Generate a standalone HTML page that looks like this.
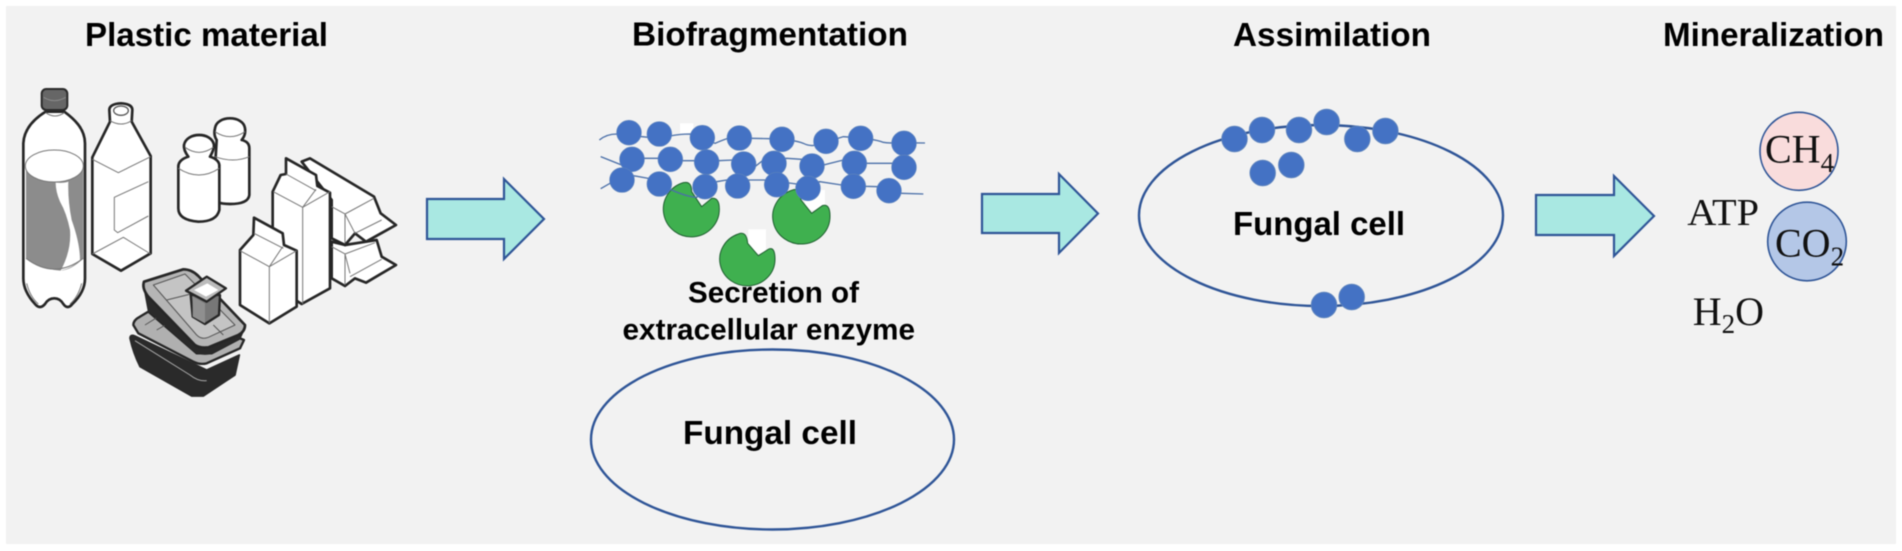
<!DOCTYPE html>
<html><head><meta charset="utf-8"><style>html,body{margin:0;padding:0;background:#fff}svg{display:block;filter:blur(.45px)}
.b{font-family:"Liberation Sans",sans-serif;font-weight:bold;fill:#000}
.s{font-family:"Liberation Serif",serif;fill:#111}
.k{stroke:#262626;stroke-width:8;stroke-linejoin:round;fill:#fff}
.t{stroke:#777;stroke-width:3;fill:none;stroke-linejoin:round}
</style></head><body>
<svg width="1902" height="551" viewBox="0 0 1902 551" xmlns="http://www.w3.org/2000/svg">
<rect width="1902" height="551" fill="#fff"/>
<rect x="6" y="6" width="1890" height="538" fill="#f2f2f2"/>

<text class="b" x="85" y="46" font-size="33" textLength="243" lengthAdjust="spacingAndGlyphs">Plastic material</text>
<text class="b" x="632" y="45.5" font-size="33" textLength="276" lengthAdjust="spacingAndGlyphs">Biofragmentation</text>
<text class="b" x="1233" y="46" font-size="33" textLength="198" lengthAdjust="spacingAndGlyphs">Assimilation</text>
<text class="b" x="1663" y="46" font-size="33" textLength="221" lengthAdjust="spacingAndGlyphs">Mineralization</text>

<!-- bottles -->
<g transform="translate(15,80) scale(0.33333)">
 <path class="k" d="M92,95C60,115 27,145 25,190L25,595C25,625 40,650 60,672Q75,690 90,672Q100,655 118,655Q135,655 145,672Q158,690 172,672C195,650 210,625 210,595L210,190C210,145 175,115 148,95Z"/>
 <path d="M33,262Q118,350 205,262L205,535Q170,570 135,572Q70,565 33,535Z" fill="#8c8c8c"/>
 <path d="M122,308Q150,310 160,305Q158,360 170,420Q195,490 195,540Q170,565 137,572Q170,510 165,450Q155,400 135,365Q122,335 122,308Z" fill="#fff"/>
 <ellipse cx="118" cy="258" rx="87" ry="48" fill="#fff" stroke="#777" stroke-width="3"/>
 <path class="t" d="M33,535Q118,600 205,535M35,610Q45,650 70,672M200,610Q190,650 165,672M92,98Q120,118 148,98"/>
 <rect x="80" y="27" width="77" height="63" rx="14" fill="#666" stroke="#2a2a2a" stroke-width="6"/>
 <path d="M86,52Q118,72 152,52" fill="none" stroke="#8a8a8a" stroke-width="3"/>
 <path class="k" d="M283,90Q283,72 318,70Q352,72 352,90L350,125L407,228L407,520L318,572L232,522L232,232L285,125Z"/>
 <ellipse cx="318" cy="92" rx="22" ry="14" fill="#fff" stroke="#555" stroke-width="4"/>
 <path class="t" d="M285,122Q318,142 350,122M232,238L310,278L407,230M232,522L325,472L407,522M400,305L298,352L298,450L308,458L400,408"/>
</g>

<!-- jars -->
<g transform="scale(0.33333)">
 <path class="k" d="M650,420Q640,405 645,385C650,345 730,345 735,385Q738,405 725,420Q748,425 748,445L748,585Q745,612 690,612Q640,612 640,590Z"/>
 <path class="t" d="M645,395Q690,425 735,395M645,470Q700,490 748,470"/>
 <path class="k" d="M565,470Q550,450 552,435C560,395 635,395 642,435Q642,450 630,470Q660,480 658,500L658,630Q650,665 595,665Q535,660 535,625L535,500Q535,480 565,470Z"/>
 <path class="t" d="M555,442Q597,472 640,442M535,505Q597,545 658,505"/>
</g>

<!-- cartons -->
<g transform="translate(230,150) scale(0.33333)">
 <path class="k" d="M305,275L345,285L408,275L440,270L455,320L498,345L408,398L375,385L345,408L305,385Z"/>
 <path class="t" d="M305,290L345,312L360,370M345,312L435,278M360,380L455,328M345,312L345,405"/>
 <path class="k" d="M215,35L240,25L432,140L452,190L498,225L408,275L375,250L345,285L305,265L305,150Z"/>
 <path class="t" d="M305,170L345,192L375,250M345,192L432,145M375,250L455,210M345,192L345,280"/>
 <path class="k" d="M128,125L152,75L168,72L168,25L258,75L262,108L300,128L300,415L215,462L128,405Z"/>
 <path class="t" d="M130,125L218,172L300,125M218,172L218,462M218,172L258,118M168,72L258,122"/>
 <path class="k" d="M30,300L70,255L72,203L158,250L162,285L200,302L200,470L118,520L30,465Z"/>
 <path class="t" d="M30,302L118,350L200,302M118,350L118,520M118,350L158,290M72,250L160,295"/>
</g>

<!-- trays -->
<g transform="translate(120,260) scale(0.33333)" stroke-linejoin="round">
 <path d="M30,235Q30,222 45,228L60,235L260,330L358,285L345,345L250,408L215,408L60,320Q40,280 30,235Z" fill="#2a2a2a" stroke="#2a2a2a" stroke-width="5"/>
 <path d="M45,242L210,345Q235,365 260,362" fill="none" stroke="#aaa" stroke-width="3"/>
 <path d="M40,195Q40,180 60,170L85,155L230,280L275,280L360,235L372,240L360,265L260,310Q240,315 220,305L55,220Z" fill="#b0b0b0" stroke="#262626" stroke-width="7"/>
 <path d="M75,195L115,170M110,210L145,190" stroke="#555" stroke-width="3" fill="none"/>
 <path d="M72,80L85,150L230,278Q250,285 275,280L360,235L375,200L260,260L225,255Z" fill="#2a2a2a" stroke="#2a2a2a" stroke-width="5"/>
 <path d="M72,65L190,28Q215,28 235,48L375,195Q375,215 355,225L265,262Q240,265 225,255L85,110Q65,85 72,65Z" fill="#b5b5b5" stroke="#262626" stroke-width="8"/>
 <path d="M100,75L195,42L345,195L265,232Q245,240 230,225Z" fill="#c4c4c4" stroke="#555" stroke-width="3"/>
 <path d="M140,120L220,100M280,195L310,225" stroke="#555" stroke-width="3" fill="none"/>
 <path d="M212,105L300,105L297,165L255,192L218,170Z" fill="#777" stroke="#262626" stroke-width="7"/>
 <path d="M218,110L255,130L255,190L218,170Z" fill="#8f8f8f"/>
 <path d="M198,92L260,50L318,85L260,125Z" fill="#bbb" stroke="#262626" stroke-width="7"/>
 <path d="M222,90L262,70L295,90L258,110Z" fill="#fff"/>
</g>

<!-- arrows -->
<g fill="#a9e8e2" stroke="#2f5597" stroke-width="2.2" stroke-linejoin="miter">
 <path d="M427,199H504V179L544,219L504,259V239H427Z"/>
 <path d="M982,194H1059V174L1098,213.5L1059,253V233H982Z"/>
 <path d="M1536,195H1614V176L1654,216L1614,256V235H1536Z"/>
</g>

<!-- biofragmentation -->
<g transform="translate(590,110) scale(0.33333)">
 <rect x="270" y="40" width="40" height="30" fill="#fff"/>
 <rect x="645" y="240" width="60" height="60" fill="#fff"/>
 <rect x="475" y="358" width="53" height="72" fill="#fff"/>
 <path d="M335,290L365,265Q388,262 388,297A84,83 0 1 1 280,218Q305,212 305,245Z" fill="#3fb04f" stroke="#1f5f30" stroke-width="3" stroke-linejoin="round"/>
 <path d="M665,310L697,287Q720,280 720,318A86,83 0 1 1 608,240Q628,232 633,270Z" fill="#3fb04f" stroke="#1f5f30" stroke-width="3" stroke-linejoin="round"/>
 <path d="M505,437L535,418Q555,408 555,448A83,80 0 1 1 445,372Q470,362 473,400Z" fill="#3fb04f" stroke="#1f5f30" stroke-width="3" stroke-linejoin="round"/>
 <g fill="none" stroke="#4a6fa8" stroke-width="4">
  <path d="M28,90Q50,72 80,72L175,82L240,78Q270,72 300,72L375,100Q410,85 420,84L480,85L540,86Q610,88 640,100Q660,110 680,105L760,80Q850,85 880,97Q900,100 910,98L1005,99"/>
  <path d="M32,140L95,165L160,145L205,145L280,152L320,152L385,152L430,150L495,170L520,150L590,145L635,148L700,165L760,150L830,160L910,160"/>
  <path d="M32,236L60,220L130,197L175,205L245,240Q290,260 320,262L380,215L410,210L530,210L620,222L690,215L755,225L825,229L865,230L935,250L1000,252"/>
 </g>
 <g fill="#4472c4" stroke="#5b82bd" stroke-width="2">
  <circle cx="117" cy="68" r="37"/><circle cx="208" cy="72" r="37"/><circle cx="337" cy="83" r="37"/><circle cx="448" cy="84" r="37"/><circle cx="576" cy="88" r="37"/><circle cx="708" cy="94" r="37"/><circle cx="812" cy="85" r="37"/><circle cx="942" cy="100" r="37"/>
  <circle cx="126" cy="148" r="37"/><circle cx="241" cy="148" r="37"/><circle cx="350" cy="156" r="37"/><circle cx="461" cy="162" r="37"/><circle cx="552" cy="160" r="37"/><circle cx="666" cy="168" r="37"/><circle cx="793" cy="160" r="37"/><circle cx="942" cy="172" r="37"/>
  <circle cx="96" cy="210" r="37"/><circle cx="208" cy="222" r="37"/><circle cx="345" cy="230" r="37"/><circle cx="443" cy="228" r="37"/><circle cx="560" cy="224" r="37"/><circle cx="654" cy="235" r="37"/><circle cx="790" cy="229" r="37"/><circle cx="897" cy="242" r="37"/>
 </g>
</g>

<text class="b" x="688" y="302.5" font-size="30" textLength="171" lengthAdjust="spacingAndGlyphs">Secretion of</text>
<text class="b" x="622.5" y="339.5" font-size="30" textLength="292.5" lengthAdjust="spacingAndGlyphs">extracellular enzyme</text>
<ellipse cx="772.5" cy="439.5" rx="181.5" ry="90" fill="none" stroke="#2f5597" stroke-width="2.4"/>
<text class="b" x="683" y="444" font-size="33" textLength="174" lengthAdjust="spacingAndGlyphs">Fungal cell</text>

<!-- assimilation -->
<ellipse cx="1321" cy="215.5" rx="182" ry="90.5" fill="none" stroke="#2f5597" stroke-width="2.4"/>
<g fill="#4472c4" stroke="#5b82bd" stroke-width="1">
 <circle cx="1234.5" cy="139" r="12.7"/><circle cx="1262" cy="130" r="12.7"/><circle cx="1299" cy="130" r="12.7"/><circle cx="1326.6" cy="122" r="12.7"/><circle cx="1357.3" cy="139" r="12.7"/><circle cx="1385.4" cy="131" r="12.7"/><circle cx="1262.7" cy="173" r="12.7"/><circle cx="1291.3" cy="165" r="12.7"/><circle cx="1324" cy="305" r="12.7"/><circle cx="1351.7" cy="297" r="12.7"/>
</g>
<text class="b" x="1233" y="235" font-size="33" textLength="172" lengthAdjust="spacingAndGlyphs">Fungal cell</text>

<!-- mineralization -->
<circle cx="1799" cy="151.3" r="39" fill="#f9dcdc" stroke="#2f5597" stroke-width="1.6"/>
<circle cx="1807" cy="241.5" r="39.3" fill="#b4c7e7" stroke="#2f5597" stroke-width="1.6"/>
<text class="s" x="1765" y="162.3" font-size="40">CH<tspan font-size="27" dy="9.5">4</tspan></text>
<text class="s" x="1775" y="256.7" font-size="40">CO<tspan font-size="27" dy="9">2</tspan></text>
<text class="s" x="1687.3" y="225" font-size="38" textLength="71.7" lengthAdjust="spacingAndGlyphs">ATP</text>
<text class="s" x="1692.7" y="325" font-size="40">H<tspan font-size="27" dy="8">2</tspan><tspan dy="-8">O</tspan></text>
</svg>
</body></html>
